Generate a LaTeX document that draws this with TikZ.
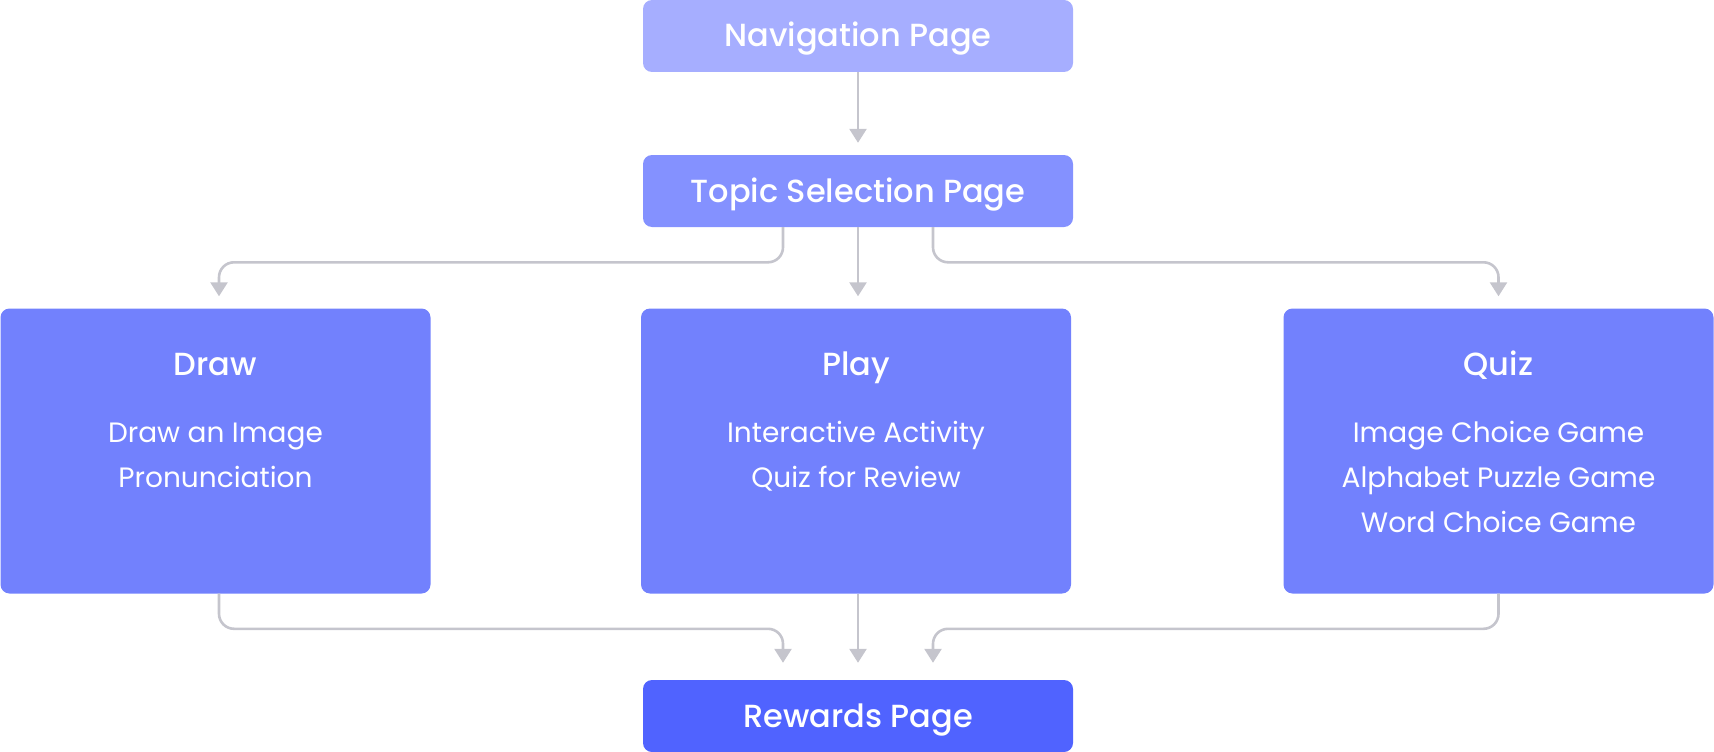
\documentclass[tikz,border=0pt]{standalone}
\usepackage{fontspec}
\setmainfont{Poppins}
\newfontfamily\popmed{Poppins Medium}
\usetikzlibrary{arrows.meta,calc}

\definecolor{navfill}{RGB}{166,174,255}
\definecolor{topicfill}{RGB}{132,145,255}
\definecolor{cardfill}{RGB}{114,129,253}
\definecolor{rewfill}{RGB}{80,99,255}
\definecolor{linkgray}{RGB}{197,197,205}

\tikzset{
  page/.style={draw=none, rounded corners=9pt, minimum width=430pt, minimum height=72pt, inner sep=0pt},
  card/.style={draw=none, fill=cardfill, rounded corners=9pt, minimum width=430pt, minimum height=285pt, inner sep=0pt},
  pagetext/.style={anchor=base, text=white, font=\popmed\fontsize{32}{36}\selectfont, inner sep=0pt},
  cardtitle/.style={anchor=base, text=white, font=\popmed\fontsize{32}{38}\selectfont, inner sep=0pt},
  carditem/.style={anchor=base, text=white, font=\fontsize{28}{45}\selectfont, align=center, inner sep=0pt},
  conn/.style={draw=linkgray, line width=2.6pt, rounded corners=15pt, -{Triangle[width=17pt,length=14pt]}}
}

\begin{document}
\begin{tikzpicture}[x=1pt, y=-1pt]
  \useasboundingbox (0,0) rectangle (1714,752);

  % top pages
  \node[page, fill=navfill]   (nav)   at (858,36)  {};
  \node[page, fill=topicfill] (topic) at (858,191) {};
  \node[pagetext] (navtxt)   at (858,47)  {Navigation Page};
  \node[pagetext] (topictxt) at (858,202) {Topic Selection Page};

  % activity cards
  \node[card] (draw) at (215.5,451) {};
  \node[card] (play) at (856,451)   {};
  \node[card] (quiz) at (1498.5,451) {};

  \node[cardtitle] (drawt) at (215.5,375) {Draw};
  \node[cardtitle] (playt) at (856,375)   {Play};
  \node[cardtitle] (quizt) at (1498.5,375) {Quiz};

  \node[carditem] (draw1) at (215.5,442) {Draw an Image};
  \node[carditem] (draw2) at (215.5,487) {Pronunciation};
  \node[carditem] (play1) at (856,442)   {Interactive Activity};
  \node[carditem] (play2) at (856,487)   {Quiz for Review};
  \node[carditem] (quiz1) at (1498.5,442) {Image Choice Game};
  \node[carditem] (quiz2) at (1498.5,487) {Alphabet Puzzle Game};
  \node[carditem] (quiz3) at (1498.5,532) {Word Choice Game};

  % rewards page
  \node[page, fill=rewfill] (rew) at (858,716) {};
  \node[pagetext] (rewtxt) at (858,727) {Rewards Page};

  % connectors
  \draw[conn] (nav.south) -- ([yshift=12pt]topic.north);

  \draw[conn] ([xshift=-75pt]topic.south) |- ($(draw.north)+(3.5,-46)$) -- ([xshift=3.5pt,yshift=12pt]draw.north);
  \draw[conn] (topic.south) -- ([yshift=12pt]topic.south |- play.north);
  \draw[conn] ([xshift=75pt]topic.south) |- ($(quiz.north)+(0,-46)$) -- ([yshift=12pt]quiz.north);

  \draw[conn] ([xshift=3.5pt]draw.south) |- ($(rew.north)+(-75,-51)$) -- ([xshift=-75pt,yshift=17pt]rew.north);
  \draw[conn] (rew.north |- play.south) -- ([yshift=17pt]rew.north);
  \draw[conn] (quiz.south) |- ($(rew.north)+(75,-51)$) -- ([xshift=75pt,yshift=17pt]rew.north);
\end{tikzpicture}
\end{document}
